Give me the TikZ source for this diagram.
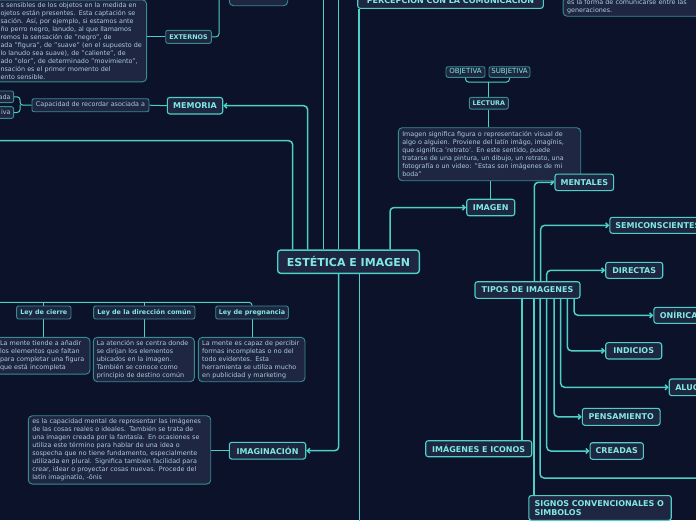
\documentclass[tikz,border=0pt]{standalone}
\usepackage{fontspec}
\setmainfont{DejaVu Sans}
\usetikzlibrary{positioning, calc, arrows.meta}
\definecolor{bgC}{RGB}{11,18,41}
\definecolor{boxC}{RGB}{30,38,66}
\definecolor{lineC}{RGB}{78,208,198}
\definecolor{edgeC}{RGB}{56,140,142}
\definecolor{labelC}{RGB}{128,234,224}
\definecolor{noteC}{RGB}{172,204,216}
\pgfdeclarelayer{bg}
\pgfdeclarelayer{links}
\pgfsetlayers{bg,links,main}
\tikzset{
  topic/.style={draw=lineC, line width=1.1pt, fill=boxC, rounded corners=2.5pt,
    text=labelC, font=\bfseries\fontsize{8}{9}\selectfont, inner sep=0pt, minimum height=16.5pt},
  minor/.style={draw=edgeC, line width=0.9pt, fill=boxC, rounded corners=2pt,
    text=labelC, font=\bfseries\fontsize{6.4}{7.5}\selectfont, inner sep=0pt, minimum height=13pt},
  note/.style={draw=edgeC, line width=0.9pt, fill=boxC, rounded corners=4pt,
    text=noteC, font=\fontsize{6.4}{8}\selectfont, align=left, inner xsep=4pt, inner ysep=2.5pt},
  link/.style={draw=lineC, line width=1.5pt, rounded corners=4pt},
  arr/.style={link, -{Straight Barb[length=2.6pt,width=5pt]}},
  twig/.style={draw=lineC, line width=1pt, rounded corners=3pt},
}

\begin{document}
\begin{tikzpicture}[x=1pt, y=-1pt]
        \begin{pgfonlayer}{bg}
          \fill[bgC] (0,0) rectangle (696,520);
        \end{pgfonlayer}
        \useasboundingbox (0,0) rectangle (696,520);
        \clip (0,0) rectangle (696,520);

        % centre
        \node[topic, line width=1.4pt, rounded corners=3pt, font=\bfseries\fontsize{11}{13}\selectfont,
          minimum width=141.6pt, minimum height=23.3pt] (est) at (348.5,261.7) {ESTÉTICA E IMAGEN};

        % sensacion, top left
        \node[note, anchor=south east, text width=142pt] (sensN) at (147,82.3) {s sensibles de los objetos en la medida en\\ojetos están presentes. Esta captación se\\sación. Así, por ejemplo, si estamos ante\\ño perro negro, lanudo, al que llamamos\\remos la sensación de "negro", de\\ada "figura", de "suave" (en el supuesto de\\lo lanudo sea suave), de "caliente", de\\ado "olor", de determinado "movimiento",\\nsación es el primer momento del\\ento sensible.};
        \node[minor, minimum width=45.6pt] (ext) at (188.5,36.8) {EXTERNOS};
        \node[note, minimum width=58.4pt, minimum height=15.4pt, inner sep=0pt] (topbox) at (258.5,-2) {};

        % memoria
        \node[topic, minimum width=55.4pt] (mem) at (195,105.7) {MEMORIA};
        \node[note, rounded corners=2pt, inner sep=0pt, minimum width=117pt, minimum height=13pt] (cap) at (90.5,105.2) {Capacidad de recordar asociada a};
        \node[note, rounded corners=2pt, anchor=east, text width=24pt, align=right, inner xsep=3pt, inner ysep=0pt, minimum height=11.7pt] (ada) at (14,96.8) {ada};
        \node[note, rounded corners=2pt, anchor=east, text width=24pt, align=right, inner xsep=3pt, inner ysep=0pt, minimum height=11.7pt] (iva) at (14,112.5) {iva};

        % percepcion
        \node[topic, minimum width=185.6pt, minimum height=16.6pt] (perc) at (450.5,0) {PERCEPCIÓN CON LA COMUNICACIÓN};
        \node[note, anchor=south west, text width=140pt] (genN) at (562.7,16.7) {es la forma de comunicarse entre las\\generaciones.};

        % imagen
        \node[topic, minimum width=48pt] (img) at (490.7,207.5) {IMAGEN};
        \node[note, text width=174.4pt, minimum height=53pt] (imgN) at (489.5,154.2) {Imagen significa figura o representación visual de\\algo o alguien. Proviene del latín imāgo, imagĭnis,\\que significa 'retrato'. En este sentido, puede\\tratarse de una pintura, un dibujo, un retrato, una\\fotografía o un video: "Estas son imágenes de mi\\boda"};
        \node[minor, minimum width=39pt, minimum height=11.7pt] (lect) at (488.8,103.2) {LECTURA};
        \node[minor, font=\fontsize{7}{8}\selectfont, minimum width=39pt, minimum height=10.6pt] (obj) at (465.5,72) {OBJETIVA};
        \node[minor, font=\fontsize{7}{8}\selectfont, minimum width=41pt, minimum height=10.6pt] (subj) at (509.5,72) {SUBJETIVA};

        % tipos de imagenes
        \node[topic, minimum width=105pt, minimum height=16.6pt] (tip) at (527.5,290) {TIPOS DE IMAGENES};
        \node[topic, minimum width=58.7pt] (ment) at (584.3,182.3) {MENTALES};
        \node[topic, anchor=west, inner xsep=5.5pt, minimum height=16pt] (semi) at (609.3,225.3) {SEMICONSCIENTES};
        \node[topic, minimum width=57pt, minimum height=16pt] (dir) at (634.2,270.3) {DIRECTAS};
        \node[topic, anchor=west, inner xsep=6pt, minimum height=16pt] (oni) at (653.3,315.3) {ONÍRICAS};
        \node[topic, minimum width=56pt, minimum height=16.3pt] (ind) at (633.7,350.8) {INDICIOS};
        \node[topic, anchor=west, inner xsep=6pt, minimum height=16.7pt] (alu) at (668.7,387.3) {ALUCINACIONES};
        \node[topic, minimum width=77.7pt, minimum height=17pt] (pen) at (621.2,416.8) {PENSAMIENTO};
        \node[topic, minimum width=53.3pt, minimum height=16.6pt] (cre) at (616.7,451) {CREADAS};
        \node[topic, minimum width=106pt, minimum height=16pt] (icon) at (478.7,448.7) {IMÁGENES E ICONOS};
        \node[topic, anchor=north west, align=left, font=\bfseries\fontsize{8}{8.7}\selectfont, text width=131pt, inner xsep=5.7pt, inner ysep=5pt] (sig) at (528.3,495) {SIGNOS CONVENCIONALES O\\SIMBOLOS};

        % imaginacion
        \node[topic, minimum width=76.4pt, minimum height=16.7pt] (imag) at (267.5,450.7) {IMAGINACIÓN};
        \node[note, text width=174.4pt, minimum height=68.3pt] (imagN) at (119.5,449.9) {es la capacidad mental de representar las imágenes\\de las cosas reales o ideales. También se trata de\\una imagen creada por la fantasía. En ocasiones se\\utiliza este término para hablar de una idea o\\sospecha que no tiene fundamento, especialmente\\utilizada en plural. Significa también facilidad para\\crear, idear o proyectar cosas nuevas. Procede del\\latín imaginatĭo, -ōnis};

        % leyes
        \node[minor, minimum width=54.3pt] (lcie) at (43.8,312.5) {Ley de cierre};
        \node[minor, minimum width=101.3pt] (ldir) at (144.3,312.5) {Ley de la dirección común};
        \node[minor, minimum width=72.6pt] (lpre) at (252,312.5) {Ley de pregnancia};
        \node[note, text width=86pt, minimum height=36.7pt] (lcieN) at (43,355.7) {La mente tiende a añadir\\los elementos que faltan\\para completar una figura\\que está incompleta};
        \node[note, text width=94pt, inner xsep=3.5pt, minimum height=44.4pt] (ldirN) at (143.8,359.5) {La atención se centra donde\\se dirijan los elementos\\ubicados en la imagen.\\También se conoce como\\principio de destino común};
        \node[note, text width=99pt, inner xsep=3.8pt, minimum height=44.4pt] (lpreN) at (251.7,359.5) {La mente es capaz de percibir\\formas incompletas o no del\\todo evidentes. Esta\\herramienta se utiliza mucho\\en publicidad y marketing};

        \begin{pgfonlayer}{links}
          \clip (0,0) rectangle (696,520);
          \coordinate (w1) at (-5,140.7);
          \coordinate (w2) at (-5,302.3);
          \coordinate (n0) at (219,-6);
          \coordinate (n1) at (323.7,-6);
          \coordinate (n2) at (338.7,-6);
          \coordinate (s1) at (359.3,526);
          \coordinate (e1) at (702,478);
          \coordinate (p1) at ($(perc.south west)+(1.6,0)$);
          \coordinate (j1) at (20,105.2);
          \coordinate (j2) at (488.8,82);
          % from the centre
          \draw[link] ($(est.north)+(-55.8,0)$) |- (w1);
          \draw[arr] ($(est.north)+(-40.8,0)$) |- (mem.east);
          \draw[link] (n1 |- est.north) -- (n1);
          \draw[link] (n2 |- est.north) -- (n2);
          \draw[link] (p1 |- est.north) -- (p1);
          \draw[arr] ($(est.north)+(41.5,0)$) |- (img.west);
          \draw[arr] ($(est.south)+(-9.8,0)$) |- (imag.east);
          \draw[link] (s1 |- est.south) -- (s1);
          % sensacion and memoria
          \draw[twig] (ext.west -| sensN.east) -- (ext.west);
          \draw[twig] (ext.east) -| (n0);
          \draw[twig] (cap.east) -- (mem.west);
          \draw[twig] (cap.west) -- (j1) |- (ada.east);
          \draw[twig] (j1) |- (iva.east);
          % imagen
          \draw[twig] (img.north) -- (img.north |- imgN.south);
          \draw[twig] (lect.south) -- (lect.south |- imgN.north);
          \draw[twig] (lect.north) -- (j2);
          \draw[twig] (obj.south) |- (j2) -| (subj.south);
          \draw[twig] (imagN.east |- imag.west) -- (imag.west);
          % leyes
          \draw[twig] (w2) -| (lpre.north);
          \draw[twig] (lcie.north) -- (lcie.north |- w2);
          \draw[twig] (ldir.north) -- (ldir.north |- w2);
          \draw[twig] (lcie.south) -- (lcie.south |- lcieN.north);
          \draw[twig] (ldir.south) -- (ldir.south |- ldirN.north);
          \draw[twig] (lpre.south) -- (lpre.south |- lpreN.north);
          % tipos de imagenes
          \draw[arr] ($(tip.north)+(6.8,0)$) |- (ment.west);
          \draw[arr] ($(tip.north)+(13.2,0)$) |- (semi.west);
          \draw[arr] ($(tip.north)+(19.2,0)$) |- (dir.west);
          \coordinate (t1) at ($(tip.south)+(-5.5,0)$);
          \coordinate (t2) at ($(tip.south)+(6.5,0)$);
          \draw[link] (t1) -- (t1 |- icon.north);
          \draw[link] (t2) -- (t2 |- sig.north);
          \draw[link] ($(tip.south)+(12.5,0)$) |- (e1);
          \draw[arr] ($(tip.south)+(19.2,0)$) |- (cre.west);
          \draw[arr] ($(tip.south)+(26.5,0)$) |- (pen.west);
          \draw[arr] ($(tip.south)+(33.2,0)$) |- (alu.west);
          \draw[arr] ($(tip.south)+(39.8,0)$) |- (ind.west);
          \draw[arr] ($(tip.south)+(46.5,0)$) |- (oni.west);
        \end{pgfonlayer}
\end{tikzpicture}
\end{document}
